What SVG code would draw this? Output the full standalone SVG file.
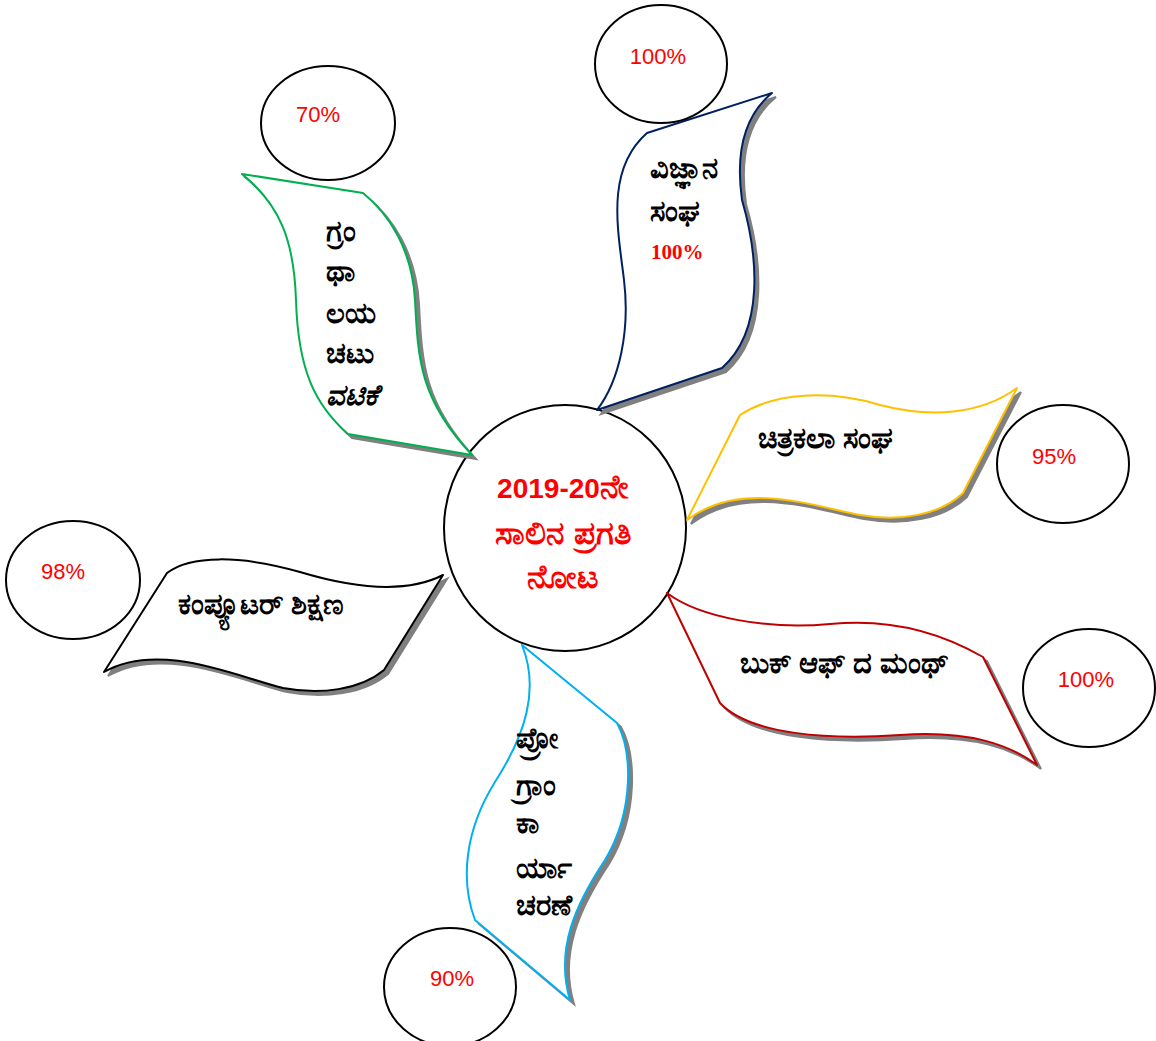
<svg xmlns="http://www.w3.org/2000/svg" width="1156" height="1041" viewBox="0 0 1156 1041">
<style>
.bg{fill:#ffffff}
.ring{fill:#ffffff;stroke:#000000;stroke-width:2}
.shadow{fill:#808080;stroke:#808080;stroke-width:2}
.flag{fill:#ffffff;stroke-width:2;stroke-linejoin:round}
.pct{font-family:"Liberation Sans",Arial,sans-serif;font-size:22px;fill:#ff0000;text-anchor:middle}
.kn{font-family:"Noto Sans",sans-serif;font-size:29px;font-weight:bold;fill:#000000}
.ctr{font-family:"Liberation Sans","Noto Sans",sans-serif;font-size:28px;font-weight:bold;fill:#ff0000;text-anchor:middle}
.ctrk{font-size:33px}
</style>
<rect class="bg" x="0" y="0" width="1156" height="1041"/>

<g id="center">
<ellipse class="ring" cx="565" cy="528" rx="121" ry="123"/>
<text class="ctr" x="563" y="498">2019-20<tspan class="ctrk">ನೇ</tspan></text>
<text class="ctr ctrk" x="563" y="544">ಸಾಲಿನ ಪ್ರಗತಿ</text>
<text class="ctr ctrk" x="563" y="588">ನೋಟ</text>
</g>

<g id="connectors"></g>

<g id="granthalaya">
<path class="shadow" transform="translate(4,4)" d="M242,174 L363,193 C390,215 412,250 415,300 C418,360 420,400 472,455 L348,434 C315,405 298,370 296,300 C294,240 280,205 242,174 Z"/>
<path class="flag" stroke="#00B050" d="M242,174 L363,193 C390,215 412,250 415,300 C418,360 420,400 472,455 L348,434 C315,405 298,370 296,300 C294,240 280,205 242,174 Z"/>
<text class="kn" x="326" y="241">ಗ್ರಂ</text>
<text class="kn" x="326" y="281">ಥಾ</text>
<text class="kn" x="326" y="323">ಲಯ</text>
<text class="kn" x="326" y="363">ಚಟು</text>
<text class="kn" x="326" y="405" font-style="italic">ವಟಿಕೆ</text>
</g>

<g id="vijnana">
<path class="shadow" transform="translate(4,4)" d="M647,133 L772,93 C745,115 735,150 742,200 C758,255 765,330 722,368 L597,410 C620,380 630,330 624,280 C618,230 605,170 647,133 Z"/>
<path class="flag" stroke="#002060" d="M647,133 L772,93 C745,115 735,150 742,200 C758,255 765,330 722,368 L597,410 C620,380 630,330 624,280 C618,230 605,170 647,133 Z"/>
<text class="kn" x="650" y="178">ವಿಜ್ಞಾನ</text>
<text class="kn" x="650" y="221">ಸಂಘ</text>
<text x="651" y="259" font-family="'Liberation Serif',serif" font-size="21" font-weight="bold" fill="#ff0000">100%</text>
</g>

<g id="chitrakala">
<path class="shadow" transform="translate(4,4)" d="M687,520 L740,415 C775,392 830,390 880,405 C930,418 980,415 1017,388 L963,493 C940,515 900,522 860,515 C810,505 740,480 687,520 Z"/>
<path class="flag" stroke="#FFC000" d="M687,520 L740,415 C775,392 830,390 880,405 C930,418 980,415 1017,388 L963,493 C940,515 900,522 860,515 C810,505 740,480 687,520 Z"/>
<text class="kn" x="758" y="448">ಚಿತ್ರಕಲಾ ಸಂಘ</text>
</g>

<g id="computer">
<path class="shadow" transform="translate(4,4)" d="M167,573 C190,555 240,555 300,572 C360,590 410,592 443,575 L384,670 C360,690 320,695 283,688 C240,678 160,640 104,672 Z"/>
<path class="flag" stroke="#000000" d="M167,573 C190,555 240,555 300,572 C360,590 410,592 443,575 L384,670 C360,690 320,695 283,688 C240,678 160,640 104,672 Z"/>
<text class="kn" x="178" y="614">ಕಂಪ್ಯೂಟರ್ ಶಿಕ್ಷಣ</text>
</g>

<g id="bookofmonth">
<path class="shadow" transform="translate(4,4)" d="M667,593 C700,618 770,630 830,624 C890,618 940,632 983,657 L1037,765 C1010,745 970,730 900,735 C830,740 750,735 720,703 Z"/>
<path class="flag" stroke="#C00000" d="M667,593 C700,618 770,630 830,624 C890,618 940,632 983,657 L1037,765 C1010,745 970,730 900,735 C830,740 750,735 720,703 Z"/>
<text class="kn" x="740" y="673">ಬುಕ್ ಆಫ್ ದ ಮಂಥ್</text>
</g>

<g id="program">
<path class="shadow" transform="translate(4,4)" d="M522,645 L617,723 C632,750 635,810 605,860 C575,905 555,950 570,1000 L475,920 C460,880 465,830 495,782 C525,735 540,690 522,645 Z"/>
<path class="flag" stroke="#00B0F0" d="M522,645 L617,723 C632,750 635,810 605,860 C575,905 555,950 570,1000 L475,920 C460,880 465,830 495,782 C525,735 540,690 522,645 Z"/>
<text class="kn" x="516" y="748">ಪ್ರೋ</text>
<text class="kn" x="516" y="795">ಗ್ರಾಂ</text>
<text class="kn" x="516" y="833">ಕಾ</text>
<text class="kn" x="516" y="878">ರ್ಯಾ</text>
<text class="kn" x="516" y="915">ಚರಣೆ</text>
</g>

<g id="pct70">
<ellipse class="ring" cx="328" cy="123" rx="67" ry="57"/>
<text class="pct" x="318" y="122">70%</text>
</g>
<g id="pct100a">
<ellipse class="ring" cx="661" cy="64" rx="66" ry="59"/>
<text class="pct" x="658" y="64">100%</text>
</g>
<g id="pct95">
<ellipse class="ring" cx="1063" cy="464" rx="66" ry="59"/>
<text class="pct" x="1054" y="464">95%</text>
</g>
<g id="pct98">
<ellipse class="ring" cx="73" cy="580" rx="67" ry="59"/>
<text class="pct" x="63" y="579">98%</text>
</g>
<g id="pct100b">
<ellipse class="ring" cx="1089" cy="688" rx="66" ry="59"/>
<text class="pct" x="1086" y="687">100%</text>
</g>
<g id="pct90">
<ellipse class="ring" cx="450" cy="987" rx="66" ry="59"/>
<text class="pct" x="452" y="986">90%</text>
</g>
</svg>
